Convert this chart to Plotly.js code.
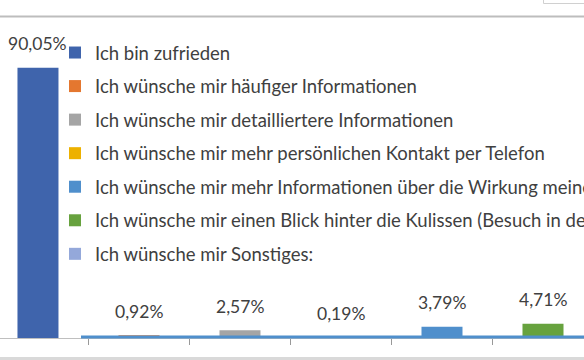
<!DOCTYPE html>
<html>
<head>
<meta charset="utf-8">
<script src="https://cdn.plot.ly/plotly-3.0.1.min.js"></script>
<style>html,body{margin:0;padding:0;background:#fff;overflow:hidden;width:584px;height:360px;}#chart{width:800px;height:360px;}</style>
</head>
<body>
<div id="chart"></div>
<script>
// Data
const seriesNames = [
  "Ich bin zufrieden",
  "Ich wünsche mir häufiger Informationen",
  "Ich wünsche mir detailliertere Informationen",
  "Ich wünsche mir mehr persönlichen Kontakt per Telefon",
  "Ich wünsche mir mehr Informationen über die Wirkung meiner Spende",
  "Ich wünsche mir einen Blick hinter die Kulissen (Besuch in der Organisation)",
  "Ich wünsche mir Sonstiges:"
];
const categories = ["A1", "A2", "A3", "A4", "A5", "A6", "A7"];
const values = [90.05, 0.92, 2.57, 0.19, 3.79, 4.71, null];
const colors = ["#3F64AC", "#E4772F", "#A5A5A5", "#EDB100", "#4F8FCC", "#67A23E", "#94A8DA"];

const FONT = "Lato, 'Open Sans', sans-serif";
const TXT = "#404040";
const W = 800, H = 360;          // the reference is a crop of a wider chart
const PT = 38, PB = 338;         // plot area top / bottom in pixels
const py = p => (PB - p) / (PB - PT);   // pixel row -> paper y
const px = p => p / W;                  // pixel col -> paper x

const traces = seriesNames.map((name, i) => ({
  type: "bar",
  name: name,
  x: [categories[i]],
  y: [values[i]],
  width: 0.406,
  marker: {color: colors[i], line: {width: 0}},
  legendgroup: "g" + i,
  hoverinfo: "skip"
}));

const fmt = v => v.toFixed(2).replace(".", ",") + "%";
const annotations = [];
values.forEach((v, i) => {
  if (v === null) return;
  annotations.push({
    x: categories[i], y: v, xref: "x", yref: "y",
    text: fmt(v), showarrow: false, yanchor: "middle", yshift: 24,
    font: {family: FONT, size: 17.5, color: TXT}
  });
});

const layout = {
  width: W, height: H,
  margin: {l: 0, r: 0, t: PT, b: H - PB, pad: 0},
  paper_bgcolor: "#ffffff", plot_bgcolor: "#ffffff",
  barmode: "overlay",
  showlegend: true,
  legend: {
    x: px(55), xanchor: "left", y: py(34), yanchor: "top",
    bgcolor: "rgba(0,0,0,0)", borderwidth: 0,
    font: {family: FONT, size: 18.5, color: TXT},
    traceorder: "grouped", tracegroupgap: 6.5, itemwidth: 30,
    maxheight: 400
  },
  xaxis: {
    type: "category", categoryorder: "array", categoryarray: categories,
    range: [-0.376, (W - 38) / 101],
    showticklabels: false, ticks: "outside", ticklen: 6, tickcolor: "#999999",
    tickson: "boundaries", showgrid: false, zeroline: false,
    showline: true, linecolor: "#BFBFBF", linewidth: 1, fixedrange: true
  },
  yaxis: {
    range: [0, 100], visible: false, showgrid: false, zeroline: false, fixedrange: true
  },
  annotations: annotations,
  shapes: [
    {type: "line", xref: "paper", yref: "paper", x0: 0, x1: 1, y0: py(16.5), y1: py(16.5),
     line: {color: "#BDBDBD", width: 2}},
    {type: "rect", xref: "paper", yref: "paper", x0: px(543.5), x1: px(620), y0: py(3.5), y1: py(-10),
     line: {color: "#D0D0D0", width: 1}, fillcolor: "rgba(0,0,0,0)"},
    {type: "line", xref: "paper", yref: "paper", x0: px(81), x1: 1, y0: py(337), y1: py(337),
     line: {color: "#4F8FCC", width: 3}, layer: "above"},
    {type: "rect", xref: "paper", yref: "paper", x0: 0, x1: 1, y0: py(357), y1: py(362),
     line: {width: 0}, fillcolor: "#D9D9D9"}
  ]
};

Plotly.newPlot("chart", traces, layout, {staticPlot: true, displayModeBar: false});
</script>
</body>
</html>
